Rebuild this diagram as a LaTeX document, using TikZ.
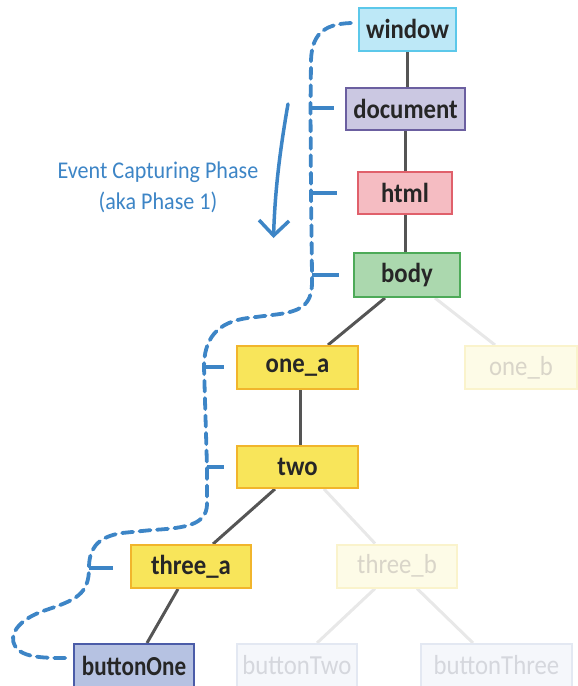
\documentclass[tikz,border=0pt]{standalone}
\usepackage{fontspec}
\setmainfont{Carlito}
\usetikzlibrary{arrows.meta,backgrounds}
\definecolor{edgeC}{HTML}{555555}
\definecolor{fadeEdge}{HTML}{E8E8E8}
\definecolor{blueC}{HTML}{3D85C6}
\definecolor{winF}{HTML}{BDE8F7}\definecolor{winD}{HTML}{5CC8EA}
\definecolor{docF}{HTML}{CBC8E2}\definecolor{docD}{HTML}{6B5FA0}
\definecolor{htmF}{HTML}{F5BCC2}\definecolor{htmD}{HTML}{E0606B}
\definecolor{bodF}{HTML}{ABD8AE}\definecolor{bodD}{HTML}{4DAA58}
\definecolor{yelF}{HTML}{F8E55A}\definecolor{yelD}{HTML}{F1B52C}
\definecolor{btnF}{HTML}{B6C2E2}\definecolor{btnD}{HTML}{4B5CA8}
\definecolor{fyF}{HTML}{FDFBE7}\definecolor{fyD}{HTML}{FAF3CC}\definecolor{fyT}{HTML}{D9D5C9}
\definecolor{fbF}{HTML}{F5F7FB}\definecolor{fbD}{HTML}{E3E8F2}\definecolor{fbT}{HTML}{D5D7DD}
\newcommand\condtxt[1]{\scalebox{0.9}[1]{#1}}
\tikzset{
  x=1pt,y=-1pt,
  box/.style={draw,line width=2pt,minimum height=43pt,inner sep=0pt,
    font=\fontsize{27.5}{29}\selectfont\bfseries,text=black!85},
  fadedtext/.style={font=\fontsize{27.5}{29}\selectfont},
  tree/.style={draw=edgeC,line width=3pt},
  faded/.style={draw=fadeEdge,line width=3pt},
  capt/.style={draw=blueC,line width=3.8pt,dash pattern=on 11pt off 6.5pt,line cap=round},
  tick/.style={draw=blueC,line width=3.8pt},
}
\begin{document}
\begin{tikzpicture}
\useasboundingbox (0,0) rectangle (578,686);
% nodes
\node[box,fill=winF,draw=winD,minimum width=97pt] (window) at (407.5,29) {\condtxt{window}};
\node[box,fill=docF,draw=docD,minimum width=119pt,minimum height=42pt] (document) at (405.5,109) {\condtxt{document}};
\node[box,fill=htmF,draw=htmD,minimum width=94pt,minimum height=42pt] (html) at (405,193) {\condtxt{html}};
\node[box,fill=bodF,draw=bodD,minimum width=106pt,minimum height=44pt] (body) at (407,275) {\condtxt{body}};
\node[box,fill=yelF,draw=yelD,minimum width=121pt] (onea) at (297.5,367.5) {\condtxt{one\_a}};
\node[box,fill=fyF,draw=fyD,minimum width=112pt,text=fyT,fadedtext] (oneb) at (521,367.5) {\condtxt{one\_b}};
\node[box,fill=yelF,draw=yelD,minimum width=121pt,minimum height=42pt] (two) at (297.5,467) {\condtxt{two}};
\node[box,fill=yelF,draw=yelD,minimum width=120pt] (threea) at (191,566.5) {\condtxt{three\_a}};
\node[box,fill=fyF,draw=fyD,minimum width=120pt,text=fyT,fadedtext] (threeb) at (397,566) {\condtxt{three\_b}};
\node[box,fill=btnF,draw=btnD,minimum width=120pt] (buttonOne) at (134,665.5) {\scalebox{0.84}[1]{buttonOne}};
\node[box,fill=fbF,draw=fbD,minimum width=120pt,text=fbT,fadedtext] (buttonTwo) at (297,665.5) {\condtxt{buttonTwo}};
\node[box,fill=fbF,draw=fbD,minimum width=151pt,text=fbT,fadedtext] (buttonThree) at (496.5,665.5) {\condtxt{buttonThree}};
% tree edges
\begin{scope}[on background layer]
\draw[tree] (window.south) -- (window.south |- document.north);
\draw[tree] (document.south) -- (document.south |- html.north);
\draw[tree] (html.south) -- (html.south |- body.north);
\draw[tree] ([xshift=-22pt]body.south) -- ([xshift=30.5pt]onea.north);
\draw[faded] ([xshift=28pt]body.south) -- ([xshift=-26pt]oneb.north);
\draw[tree] ([xshift=2.5pt]onea.south) -- ([xshift=2.5pt]two.north);
\draw[tree] ([xshift=-22.5pt]two.south) -- ([xshift=22pt]threea.north);
\draw[faded] ([xshift=26.5pt]two.south) -- ([xshift=-22pt]threeb.north);
\draw[tree] ([xshift=-13pt]threea.south) -- ([xshift=13pt]buttonOne.north);
\draw[faded] ([xshift=-22pt]threeb.south) -- ([xshift=20pt]buttonTwo.north);
\draw[faded] ([xshift=20pt]threeb.south) -- ([xshift=-23.5pt]buttonThree.north);
\end{scope}
% capture path
\coordinate (c0) at (351,23);
\coordinate (tdoc) at (310.5,108);
\coordinate (thtml) at (311,193);
\coordinate (tbody) at (312,275);
\coordinate (tonea) at (204,367);
\coordinate (ttwo) at (207,467);
\coordinate (tthree) at (89,568);
\coordinate (cend) at (68,658);
\draw[capt] (c0) .. controls (322,24) and (312,36) .. (311,60) -- (tdoc) -- (thtml) -- (tbody)
  -- (312,282) .. controls (312,306) and (300,312) .. (272,315) -- (248,318)
  .. controls (216,322) and (204,340) .. (tonea) -- (ttwo) -- (207,505)
  .. controls (206,524) and (188,528) .. (152,530) -- (122,533)
  .. controls (96,537) and (89,550) .. (tthree)
  .. controls (89,594) and (76,600) .. (46,610)
  .. controls (16,620) and (9,636) .. (15,646)
  .. controls (22,658) and (45,658) .. (cend);
\draw[tick] (tdoc) -- ([xshift=23pt]tdoc);
\draw[tick] (thtml) -- ([xshift=26pt]thtml);
\draw[tick] (tbody) -- ([xshift=27pt]tbody);
\draw[tick] (tonea) -- ([xshift=20pt]tonea);
\draw[tick] (ttwo) -- ([xshift=17pt]ttwo);
\draw[tick] (tthree) -- ([xshift=24pt]tthree);
% arrow and label
\coordinate (a0) at (288,104);
\coordinate (a1) at (273.5,238);
\draw[blueC,line width=3.5pt,line cap=round,-{Straight Barb[length=15pt,width=30pt,line width=3.5pt]}] (a0) .. controls (280,150) and (275,190) .. (a1);
\node[text=blueC,align=center,font=\fontsize{24}{31}\selectfont] (lbl) at (158,187) {\scalebox{0.92}[1]{Event Capturing Phase}\\\scalebox{0.92}[1]{(aka Phase 1)}};
\end{tikzpicture}
\end{document}
